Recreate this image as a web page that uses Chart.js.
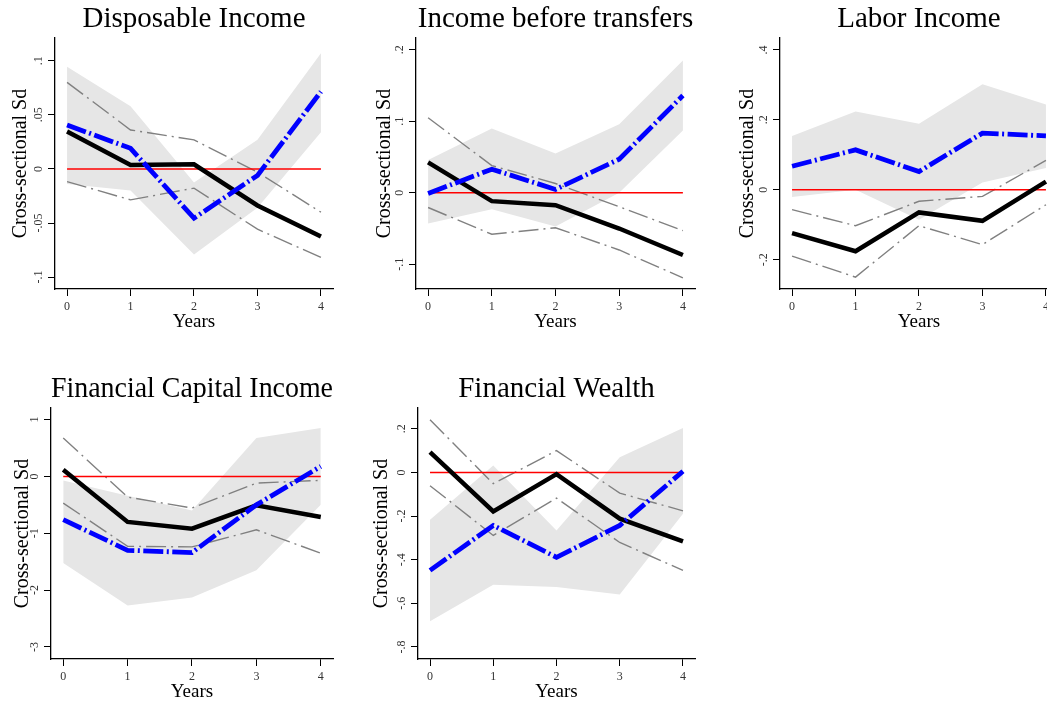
<!DOCTYPE html>
<html>
<head>
<meta charset="utf-8">
<script src="https://cdn.jsdelivr.net/npm/chart.js@4.4.0/dist/chart.umd.min.js"></script>
<style>
  html, body { margin: 0; padding: 0; background: #fff; }
  body { width: 1047px; height: 704px; overflow: hidden; position: relative; }
  .panel { position: absolute; }
</style>
</head>
<body>
<script>
const years = [0, 1, 2, 3, 4];
const zeroLine = [0, 0, 0, 0, 0];

// Disposable Income
const dispBandHi = [0.0945, 0.058, -0.0126, 0.027, 0.107];
const dispBandLo = [-0.014, -0.020, -0.079, -0.036, 0.034];
const dispAlt = [0.0406, 0.019, -0.0455, -0.006, 0.0714];
const dispPoint = [0.0345, 0.0037, 0.0043, -0.0338, -0.0625];
const dispCiHi = [0.080, 0.036, 0.0268, -0.003, -0.040];
const dispCiLo = [-0.0117, -0.0286, -0.0178, -0.0557, -0.0818];
const dispTicks = [-0.1, -0.05, 0, 0.05, 0.1];
const dispTickLabels = ["-.1", "-.05", "0", ".05", ".1"];

// Income before transfers
const ibtBandHi = [0.046, 0.090, 0.055, 0.096, 0.185];
const ibtBandLo = [-0.043, -0.023, -0.047, 0.0, 0.087];
const ibtAlt = [-0.001, 0.033, 0.0047, 0.047, 0.136];
const ibtPoint = [0.0425, -0.0117, -0.0173, -0.050, -0.087];
const ibtCiHi = [0.105, 0.038, 0.013, -0.0196, -0.053];
const ibtCiLo = [-0.0206, -0.058, -0.049, -0.080, -0.119];
const ibtTicks = [-0.1, 0, 0.1, 0.2];
const ibtTickLabels = ["-.1", "0", ".1", ".2"];

// Labor Income
const labBandHi = [0.154, 0.224, 0.189, 0.302, 0.244];
const labBandLo = [-0.021, 0.0, -0.086, 0.021, 0.062];
const labAlt = [0.067, 0.114, 0.052, 0.162, 0.154];
const labPoint = [-0.124, -0.176, -0.065, -0.089, 0.023];
const labCiHi = [-0.057, -0.103, -0.033, -0.019, 0.084];
const labCiLo = [-0.19, -0.250, -0.103, -0.157, -0.043];
const labTicks = [-0.2, 0, 0.2, 0.4];
const labTickLabels = ["-.2", "0", ".2", ".4"];

// Financial Capital Income
const fciBandHi = [-0.07, -0.34, -0.60, 0.675, 0.85];
const fciBandLo = [-1.525, -2.27, -2.13, -1.65, -0.5];
const fciAlt = [-0.76, -1.30, -1.34, -0.50, 0.176];
const fciPoint = [0.117, -0.80, -0.92, -0.51, -0.715];
const fciCiHi = [0.675, -0.364, -0.557, -0.117, -0.07];
const fciCiLo = [-0.47, -1.23, -1.24, -0.94, -1.35];
const fciTicks = [-3, -2, -1, 0, 1];
const fciTickLabels = ["-3", "-2", "-1", "0", "1"];

// Financial Wealth
const fwBandHi = [-0.217, 0.031, -0.266, 0.069, 0.203];
const fwBandLo = [-0.682, -0.515, -0.525, -0.56, -0.189];
const fwAlt = [-0.449, -0.243, -0.389, -0.243, 0.005];
const fwPoint = [0.093, -0.179, -0.008, -0.212, -0.316];
const fwCiHi = [0.241, -0.052, 0.10, -0.095, -0.176];
const fwCiLo = [-0.061, -0.289, -0.118, -0.321, -0.449];
const fwTicks = [-0.8, -0.6, -0.4, -0.2, 0, 0.2];
const fwTickLabels = ["-.8", "-.6", "-.4", "-.2", "0", ".2"];

const SERIF = "'Liberation Serif', 'Times New Roman', serif";
const Y_W = 55, TITLE_H = 38, X_H = 45, PAD_R = 10;

// stata style rotated y tick labels
const yTickLabelPlugin = {
  id: "yTickLabels",
  afterDraw(chart, args, opts) {
    const s = chart.scales.y;
    const ctx = chart.ctx;
    ctx.save();
    ctx.font = "12px " + SERIF;
    ctx.fillStyle = "#333";
    ctx.textAlign = "center";
    ctx.textBaseline = "middle";
    opts.values.forEach((v, i) => {
      ctx.save();
      ctx.translate(s.right - 16.5, s.getPixelForValue(v));
      ctx.rotate(-Math.PI / 2);
      ctx.fillText(opts.labels[i], 0, 0);
      ctx.restore();
    });
    ctx.restore();
  },
};

function pts(arr) {
  return arr.map((y, i) => ({ x: years[i], y }));
}

function makePanel(cfg) {
  const a = cfg.area;
  const div = document.createElement("div");
  div.className = "panel";
  const w = Math.round(Y_W + (a.r - a.l) + PAD_R);
  const h = Math.round(TITLE_H + (a.b - a.t) + X_H);
  div.style.left = a.l - Y_W + "px";
  div.style.top = a.t - TITLE_H + "px";
  div.style.width = w + "px";
  div.style.height = h + "px";
  const canvas = document.createElement("canvas");
  canvas.width = w;
  canvas.height = h;
  div.appendChild(canvas);
  document.body.appendChild(div);

  const line = (data, color, width, dash) => ({
    data: pts(data),
    borderColor: color,
    borderWidth: width,
    borderDash: dash || [],
    borderCapStyle: "butt",
    pointRadius: 0,
    fill: false,
    tension: 0,
  });

  const bandHi = line(cfg.bandHi, "rgba(0,0,0,0)", 0);
  bandHi.fill = "+1";
  bandHi.backgroundColor = "#e6e6e6";
  const bandLo = line(cfg.bandLo, "rgba(0,0,0,0)", 0);

  new Chart(canvas, {
    type: "line",
    data: {
      datasets: [
        line(cfg.alt, "#0000ff", 4.8, [20, 3.5, 2, 3.5]),
        line(cfg.point, "#000000", 4.5),
        line(zeroLine, "#ff0000", 1.5),
        line(cfg.ciHi, "#808080", 1.4, [20, 5, 2, 5]),
        line(cfg.ciLo, "#808080", 1.4, [20, 5, 2, 5]),
        bandHi,
        bandLo,
      ],
    },
    options: {
      responsive: false,
      animation: false,
      layout: { padding: { left: 0, top: 0, right: PAD_R, bottom: 0 } },
      plugins: {
        legend: { display: false },
        tooltip: { enabled: false },
        title: {
          display: true,
          text: cfg.title,
          fullSize: false,
          color: "#000",
          font: { family: SERIF, size: 29, weight: "normal" },
          padding: { top: 2, bottom: 1.2 },
        },
        yTickLabels: { values: cfg.yTicks, labels: cfg.yTickLabels },
      },
      scales: {
        x: {
          type: "linear",
          min: -0.19,
          max: 4.19,
          afterBuildTicks: (s) => {
            s.ticks = years.map((v) => ({ value: v }));
          },
          afterFit: (s) => {
            s.height = X_H;
          },
          grid: { drawOnChartArea: false, tickLength: 7, color: "#000", lineWidth: 1 },
          border: { display: true, color: "#000", width: 1.3 },
          ticks: {
            font: { family: SERIF, size: 12 },
            color: "#333",
            padding: 4,
            maxRotation: 0,
            autoSkip: false,
          },
          title: {
            display: true,
            text: "Years",
            color: "#000",
            font: { family: SERIF, size: 19 },
            padding: { top: 0, bottom: 1 },
          },
        },
        y: {
          type: "linear",
          min: cfg.yMin,
          max: cfg.yMax,
          afterBuildTicks: (s) => {
            s.ticks = cfg.yTicks.map((v) => ({ value: v }));
          },
          afterFit: (s) => {
            s.width = Y_W;
          },
          grid: { drawOnChartArea: false, tickLength: 7, color: "#000", lineWidth: 1 },
          border: { display: true, color: "#000", width: 1.3 },
          ticks: { display: false },
          title: {
            display: true,
            text: "Cross-sectional Sd",
            color: "#000",
            font: { family: SERIF, size: 20 },
            padding: { top: cfg.yTitlePad, bottom: 0 },
          },
        },
      },
    },
    plugins: [yTickLabelPlugin],
  });
}

makePanel({
  title: "Disposable Income",
  area: { l: 55, t: 38, r: 333, b: 289 },
  yMin: -0.111, yMax: 0.121, yTicks: dispTicks, yTickLabels: dispTickLabels, yTitlePad: 9,
  bandHi: dispBandHi, bandLo: dispBandLo, alt: dispAlt, point: dispPoint, ciHi: dispCiHi, ciLo: dispCiLo,
});
makePanel({
  title: "Income before transfers",
  area: { l: 416, t: 38, r: 695, b: 289 },
  yMin: -0.1346, yMax: 0.2165, yTicks: ibtTicks, yTickLabels: ibtTickLabels, yTitlePad: 12,
  bandHi: ibtBandHi, bandLo: ibtBandLo, alt: ibtAlt, point: ibtPoint, ciHi: ibtCiHi, ciLo: ibtCiLo,
});
makePanel({
  title: "Labor Income",
  area: { l: 780, t: 38, r: 1058, b: 289 },
  yMin: -0.284, yMax: 0.434, yTicks: labTicks, yTickLabels: labTickLabels, yTitlePad: 11,
  bandHi: labBandHi, bandLo: labBandLo, alt: labAlt, point: labPoint, ciHi: labCiHi, ciLo: labCiLo,
});
makePanel({
  title: "Financial Capital Income",
  area: { l: 51, t: 408, r: 333, b: 659 },
  yMin: -3.213, yMax: 1.204, yTicks: fciTicks, yTickLabels: fciTickLabels, yTitlePad: 14.5,
  bandHi: fciBandHi, bandLo: fciBandLo, alt: fciAlt, point: fciPoint, ciHi: fciCiHi, ciLo: fciCiLo,
});
makePanel({
  title: "Financial Wealth",
  area: { l: 418, t: 408, r: 695, b: 659 },
  yMin: -0.855, yMax: 0.295, yTicks: fwTicks, yTickLabels: fwTickLabels, yTitlePad: 6.5,
  bandHi: fwBandHi, bandLo: fwBandLo, alt: fwAlt, point: fwPoint, ciHi: fwCiHi, ciLo: fwCiLo,
});
</script>
</body>
</html>
